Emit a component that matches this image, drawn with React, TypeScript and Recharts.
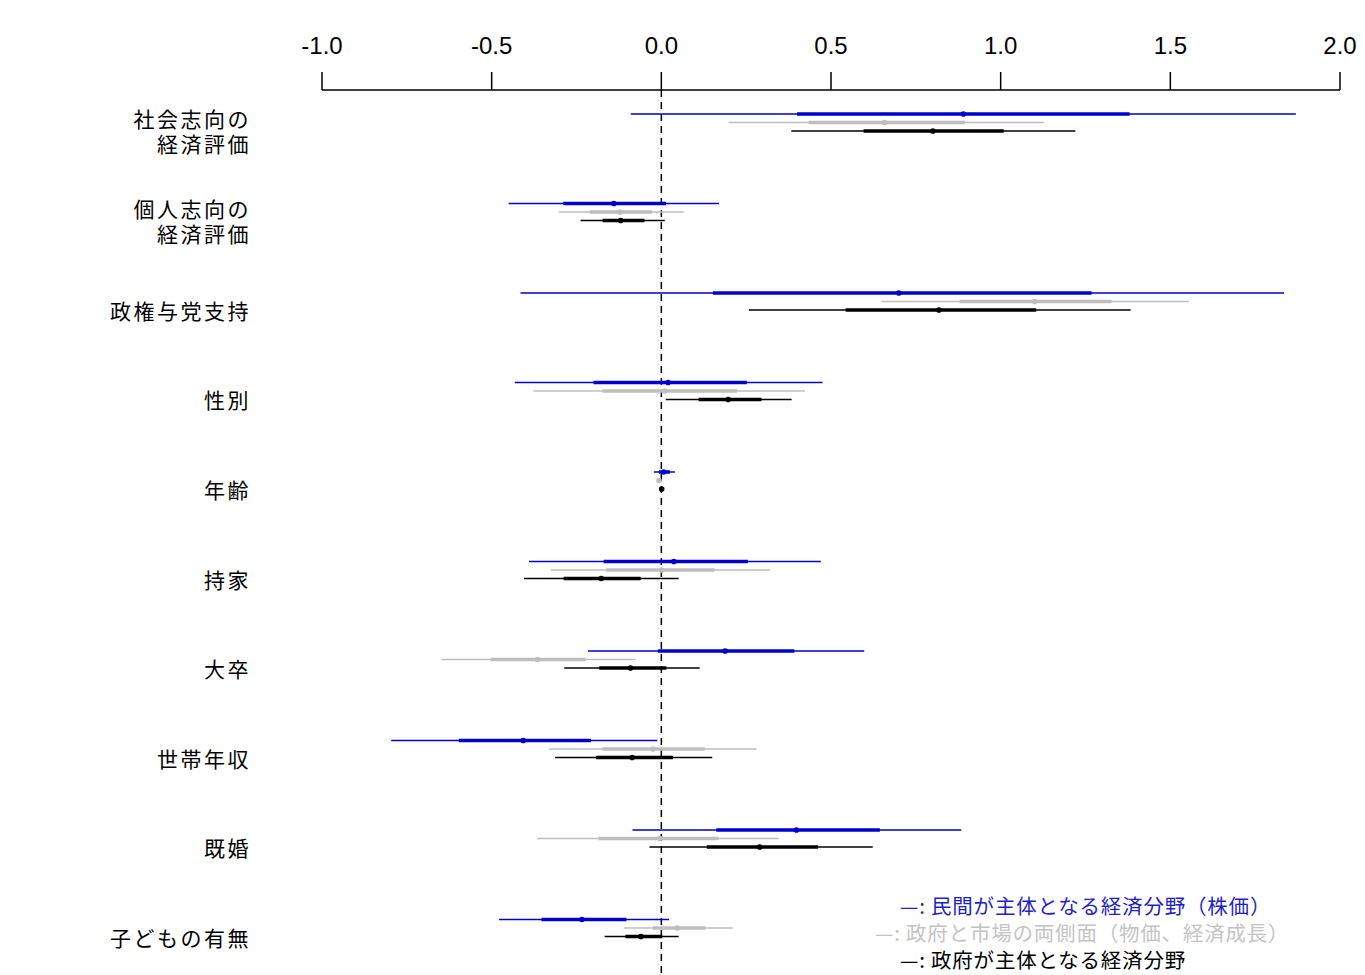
import React from 'react';
import { ComposedChart, Scatter, ErrorBar, XAxis, YAxis, ReferenceLine } from 'recharts';

const rowLabels = [
  '社会志向の\n経済評価',
  '個人志向の\n経済評価',
  '政権与党支持',
  '性別',
  '年齢',
  '持家',
  '大卒',
  '世帯年収',
  '既婚',
  '子どもの有無',
];

const xTicks = [-1, -0.5, 0, 0.5, 1, 1.5, 2];

// 民間が主体となる経済分野（株価）
const privEst = [0.89, -0.14, 0.7, 0.02, 0.007, 0.037, 0.188, -0.407, 0.398, -0.234];
const privLo = [-0.09, -0.45, -0.415, -0.432, -0.022, -0.39, -0.216, -0.796, -0.085, -0.478];
const privHi = [1.87, 0.17, 1.835, 0.475, 0.04, 0.47, 0.598, -0.012, 0.884, 0.023];
const privLoIn = [0.4, -0.289, 0.152, -0.2, -0.007, -0.17, -0.01, -0.597, 0.162, -0.353];
const privHiIn = [1.38, 0.014, 1.268, 0.252, 0.025, 0.255, 0.392, -0.207, 0.644, -0.103];

// 政府と市場の両側面（物価、経済成長）
const bothEst = [0.658, -0.122, 1.1, 0.01, -0.007, 0.001, -0.365, -0.025, -0.005, 0.047];
const bothLo = [0.198, -0.303, 0.649, -0.377, -0.013, -0.326, -0.648, -0.331, -0.366, -0.111];
const bothHi = [1.127, 0.066, 1.554, 0.423, -0.001, 0.321, -0.076, 0.281, 0.346, 0.21];
const bothLoIn = [0.434, -0.211, 0.879, -0.174, -0.01, -0.162, -0.503, -0.174, -0.185, -0.025];
const bothHiIn = [0.894, -0.027, 1.327, 0.223, -0.004, 0.157, -0.223, 0.128, 0.169, 0.13];

// 政府が主体となる経済分野
const govEst = [0.8, -0.12, 0.818, 0.197, 0.001, -0.177, -0.091, -0.086, 0.29, -0.06];
const govLo = [0.383, -0.238, 0.258, 0.013, -0.004, -0.405, -0.286, -0.313, -0.035, -0.167];
const govHi = [1.22, 0.01, 1.383, 0.384, 0.006, 0.051, 0.113, 0.15, 0.623, 0.051];
const govLoIn = [0.596, -0.173, 0.543, 0.11, -0.001, -0.288, -0.183, -0.192, 0.134, -0.106];
const govHiIn = [1.009, -0.05, 1.105, 0.295, 0.003, -0.061, 0.015, 0.034, 0.462, 0.003];

const BLUE = '#0000CD';
const GRAY = '#BEBEBE';
const BLACK = '#000000';

// vertical offset of each model inside a row (row units)
const OFF_PRIV = 0;
const OFF_BOTH = 0.095;
const OFF_GOV = 0.19;

const build = (est: number[], lo: number[], hi: number[], loIn: number[], hiIn: number[], off: number) =>
  est.map((e, i) => ({
    x: e,
    y: i + off,
    wide: [e - lo[i], hi[i] - e],
    narrow: [e - loIn[i], hiIn[i] - e],
  }));

const privData = build(privEst, privLo, privHi, privLoIn, privHiIn, OFF_PRIV);
const bothData = build(bothEst, bothLo, bothHi, bothLoIn, bothHiIn, OFF_BOTH);
const govData = build(govEst, govLo, govHi, govLoIn, govHiIn, OFF_GOV);

const yTicks = rowLabels.map((_, i) => i + OFF_GOV);

const RowTick = (props: any) => {
  const { x, y, payload } = props;
  const idx = Math.round(payload.value - OFF_GOV);
  const lines = (rowLabels[idx] || '').split('\n');
  const lh = 25;
  const start = y - ((lines.length - 1) * lh) / 2;
  return (
    <text x={x} y={start} textAnchor="end" dominantBaseline="central" fontSize={21} letterSpacing={2.5} fill="#000"
      fontFamily='"Noto Sans CJK JP", sans-serif'>
      {lines.map((l, k) => (
        <tspan key={k} x={x} dy={k === 0 ? 0 : lh}>{l}</tspan>
      ))}
    </text>
  );
};

const dot = (color: string) => (p: any) => <circle cx={p.cx} cy={p.cy} r={2.8} fill={color} />;

const legendItems = [
  { text: '—: 民間が主体となる経済分野（株価）', color: '#1F1FC8', shift: 25 },
  { text: '—: 政府と市場の両側面（物価、経済成長）', color: '#C4C4C4', shift: 0 },
  { text: '—: 政府が主体となる経済分野', color: '#000000', shift: 25 },
];

export default function App() {
  return (
    <div style={{ position: 'absolute', left: 0, top: 0, width: 1365, height: 975, background: '#fff' }}>
      <ComposedChart width={1365} height={975} margin={{ top: 0, right: 25, bottom: 0, left: 0 }}>
        <XAxis
          type="number"
          dataKey="x"
          orientation="top"
          domain={[-1, 2]}
          ticks={xTicks}
          allowDataOverflow
          height={90}
          tickSize={18}
          tickMargin={18}
          tickFormatter={(v: number) => v.toFixed(1)}
          axisLine={{ stroke: '#000', strokeWidth: 1.5 }}
          tickLine={{ stroke: '#000', strokeWidth: 1.5 }}
          tick={{ fill: '#000', fontSize: 24, fontFamily: '"Liberation Sans", Arial, sans-serif' }}
        />
        <YAxis
          type="number"
          dataKey="y"
          domain={[-0.268, 9.62]}
          reversed
          allowDataOverflow
          ticks={yTicks}
          width={322}
          axisLine={false}
          tickLine={false}
          tickSize={0}
          tickMargin={71}
          tick={<RowTick />}
          interval={0}
        />
        <ReferenceLine x={0} stroke="#000" strokeWidth={1.5} strokeDasharray="7 5" />
        <Scatter data={privData} fill={BLUE} shape={dot(BLUE)} isAnimationActive={false}>
          <ErrorBar dataKey="wide" direction="x" width={0} stroke={BLUE} strokeWidth={1.5} />
          <ErrorBar dataKey="narrow" direction="x" width={0} stroke={BLUE} strokeWidth={3.5} />
        </Scatter>
        <Scatter data={bothData} fill={GRAY} shape={dot(GRAY)} isAnimationActive={false}>
          <ErrorBar dataKey="wide" direction="x" width={0} stroke={GRAY} strokeWidth={1.5} />
          <ErrorBar dataKey="narrow" direction="x" width={0} stroke={GRAY} strokeWidth={3.5} />
        </Scatter>
        <Scatter data={govData} fill={BLACK} shape={dot(BLACK)} isAnimationActive={false}>
          <ErrorBar dataKey="wide" direction="x" width={0} stroke={BLACK} strokeWidth={1.5} />
          <ErrorBar dataKey="narrow" direction="x" width={0} stroke={BLACK} strokeWidth={3.5} />
        </Scatter>
      </ComposedChart>
      <div style={{ position: 'absolute', left: 875, top: 892, fontFamily: '"Noto Sans CJK JP", sans-serif', fontSize: 20.5, letterSpacing: 0.8, lineHeight: '27px' }}>
        {legendItems.map((it) => (
          <div key={it.text} style={{ color: it.color, paddingLeft: it.shift, whiteSpace: 'nowrap' }}>{it.text}</div>
        ))}
      </div>
    </div>
  );
}
